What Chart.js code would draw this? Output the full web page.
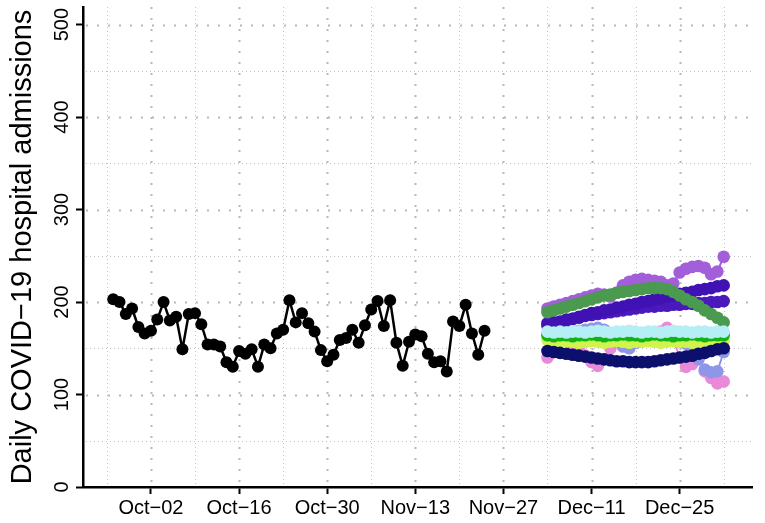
<!DOCTYPE html>
<html lang="en">
<head>
    <meta charset="UTF-8">
    <title>Daily COVID-19 hospital admissions</title>
    <script src="https://cdn.jsdelivr.net/npm/chart.js"></script>
    <style>
        body { margin: 0; background: #fff; }
        #admissionsChart { display: block; }
    </style>
</head>
<body>

    <canvas id="admissionsChart" width="765" height="523"></canvas>

    <script>
        // x values are days counted from Oct-02
        const tickDays = [0, 14, 28, 42, 56, 70, 84];
        const tickLabels = ['Oct\u221202', 'Oct\u221216', 'Oct\u221230', 'Nov\u221213', 'Nov\u221227', 'Dec\u221211', 'Dec\u221225'];
        const yTicks = [0, 100, 200, 300, 400, 500];

        // observed admissions, daily from Sep-26
        const observedStart = -6;
        const observed = [203, 200, 187, 193, 173, 166, 169, 181, 200, 180,
                          184, 149, 187, 188, 176, 154, 154, 152, 135, 130,
                          147, 144, 149, 130, 154, 150, 166, 170, 202, 178,
                          188, 177, 168, 148, 136, 143, 159, 161, 170, 156,
                          175, 192, 201, 174, 202, 156, 131, 157, 165, 163,
                          144, 135, 136, 125, 179, 174, 197, 166, 143, 169];

        // projections, daily from Dec-04
        const projStart = 63;
        const navy = [147, 146, 145, 144, 143, 142, 141, 140, 139, 138, 137, 136, 136, 135, 135,
                      135, 135, 136, 137, 138, 139, 140, 141, 142, 144, 145, 147, 149, 150];
        const cyan = [168, 167, 168, 167, 168, 168, 167, 168, 169, 168, 167, 168, 168, 169, 168,
                      167, 168, 168, 167, 168, 169, 168, 168, 167, 168, 168, 167, 168, 168];
        const brightGreen = [164, 163, 164, 164, 163, 164, 164, 165, 164, 163, 164, 164, 165, 164, 164,
                             163, 164, 165, 164, 164, 163, 164, 164, 165, 164, 163, 164, 164, 164];
        const yellowGreen = [159, 158, 157, 158, 157, 156, 157, 158, 157, 156, 157, 158, 157, 156, 157,
                             157, 158, 157, 156, 157, 158, 157, 157, 156, 157, 158, 157, 157, 158];
        const periwinkle = [165, 166, 166, 167, 168, 169, 170, 171, 172, 170, 165, 158, 152, 150, 156,
                            163, 166, 165, 164, 165, 163, 160, 155, 148, 138, 127, 124, 125, 146];
        const green = [189, 191, 193, 195, 197, 199, 201, 203, 205, 207, 208, 210, 211, 212, 213,
                       214, 215, 215, 215, 214, 211, 207, 203, 200, 196, 191, 187, 183, 178];
        const indigo = [177, 178, 179, 181, 182, 184, 186, 188, 189, 191, 192, 194, 195, 197, 198,
                        200, 201, 203, 204, 206, 207, 209, 210, 211, 213, 214, 215, 217, 218];
        const violet = [174, 176, 178, 180, 182, 183, 185, 186, 187, 188, 189, 190, 191, 192, 193,
                        194, 195, 195, 196, 196, 197, 197, 198, 198, 199, 199, 200, 200, 201];
        const pink = [140, 148, 158, 162, 155, 148, 142, 135, 131, 138, 150, 162, 158, 152, 160,
                      165, 158, 162, 168, 172, 160, 140, 130, 133, 142, 125, 118, 112, 114];
        const lavender = [193, 195, 197, 199, 201, 203, 205, 207, 209, 208, 206, 210, 218, 222, 224,
                          225, 224, 223, 222, 218, 220, 232, 236, 238, 239, 237, 230, 233, 249];

        const toPoints = (start, values) => values.map((v, i) => ({ x: start + i, y: v }));

        // first entry is drawn on top
        const projections = [
            [navy, '#0c106c'],
            [cyan, '#b5eef5'],
            [brightGreen, '#12b312'],
            [yellowGreen, '#d2f24e'],
            [periwinkle, '#8e96e8'],
            [green, '#4a9a4f'],
            [indigo, '#4012b4'],
            [violet, '#4a18bb'],
            [pink, '#e88ad8'],
            [lavender, '#a35ed9'],
        ];

        const datasets = [{
            data: toPoints(observedStart, observed),
            borderColor: '#000',
            backgroundColor: '#000',
            borderWidth: 2.5,
            pointRadius: 6,
            pointBorderWidth: 0,
        }].concat(projections.map(([vals, col]) => ({
            data: toPoints(projStart, vals),
            borderColor: col,
            backgroundColor: col,
            borderWidth: 2,
            pointRadius: 6.3,
            pointBorderWidth: 0,
        })));

        const fontFamily = "'Liberation Sans', Arial, sans-serif";
        const font = { family: fontFamily, size: 20 };

        // dotted major / minor grid like the original plot
        const dottedGrid = {
            id: 'dottedGrid',
            beforeDatasetsDraw(chart) {
                const { ctx, chartArea: a, scales: { x, y } } = chart;
                ctx.save();
                const line = (x1, y1, x2, y2, major) => {
                    ctx.beginPath();
                    ctx.strokeStyle = major ? '#b8b8b8' : '#c4c4c4';
                    ctx.lineWidth = major ? 2 : 1;
                    ctx.setLineDash(major ? [2, 9] : [1, 3]);
                    ctx.moveTo(x1, y1);
                    ctx.lineTo(x2, y2);
                    ctx.stroke();
                };
                for (let v = 50; v <= 500; v += 50) {
                    const py = Math.round(y.getPixelForValue(v)) + 0.5;
                    line(a.left + 3, py, a.right, py, v % 100 === 0);
                }
                for (let d = -7; d <= 91; d += 7) {
                    const px = Math.round(x.getPixelForValue(d)) + 0.5;
                    line(px, a.top, px, a.bottom - 3, d % 14 === 0);
                }
                ctx.restore();
            },
            // y tick labels written parallel to the axis
            afterDraw(chart) {
                const { ctx, scales: { y } } = chart;
                ctx.save();
                ctx.fillStyle = '#000';
                ctx.font = font.size + 'px ' + fontFamily;
                ctx.textAlign = 'center';
                ctx.textBaseline = 'alphabetic';
                yTicks.forEach(v => {
                    ctx.save();
                    ctx.translate(68, y.getPixelForValue(v));
                    ctx.rotate(-Math.PI / 2);
                    ctx.fillText(String(v), 0, 0);
                    ctx.restore();
                });
                ctx.restore();
            }
        };

        new Chart(document.getElementById('admissionsChart'), {
            type: 'line',
            data: { datasets: datasets },
            options: {
                responsive: false,
                animation: false,
                layout: { padding: { left: 6, right: 13, top: 7, bottom: 0 } },
                plugins: {
                    legend: { display: false },
                    tooltip: { enabled: false },
                },
                scales: {
                    x: {
                        type: 'linear',
                        min: -10.8,
                        max: 95.5,
                        afterBuildTicks: s => { s.ticks = tickDays.map(v => ({ value: v })); },
                        afterFit: s => { s.height = 36; },
                        ticks: {
                            callback: v => tickLabels[tickDays.indexOf(v)],
                            font: font,
                            color: '#000',
                            padding: 2,
                            maxRotation: 0,
                            autoSkip: false,
                        },
                        grid: { drawOnChartArea: false, tickLength: 7, tickWidth: 2, tickColor: '#000' },
                        border: { color: '#000', width: 2.5 },
                    },
                    y: {
                        type: 'linear',
                        min: 0,
                        max: 519,
                        afterBuildTicks: s => { s.ticks = yTicks.map(v => ({ value: v })); },
                        afterFit: s => { s.width = 77; },
                        title: {
                            display: true,
                            text: 'Daily COVID\u221219 hospital admissions',
                            font: { family: fontFamily, size: 29 },
                            color: '#000',
                            padding: 0,
                        },
                        ticks: { display: false },
                        grid: { drawOnChartArea: false, tickLength: 7, tickWidth: 2, tickColor: '#000' },
                        border: { color: '#000', width: 2.5 },
                    },
                },
            },
            plugins: [dottedGrid],
        });
    </script>

</body>
</html>
